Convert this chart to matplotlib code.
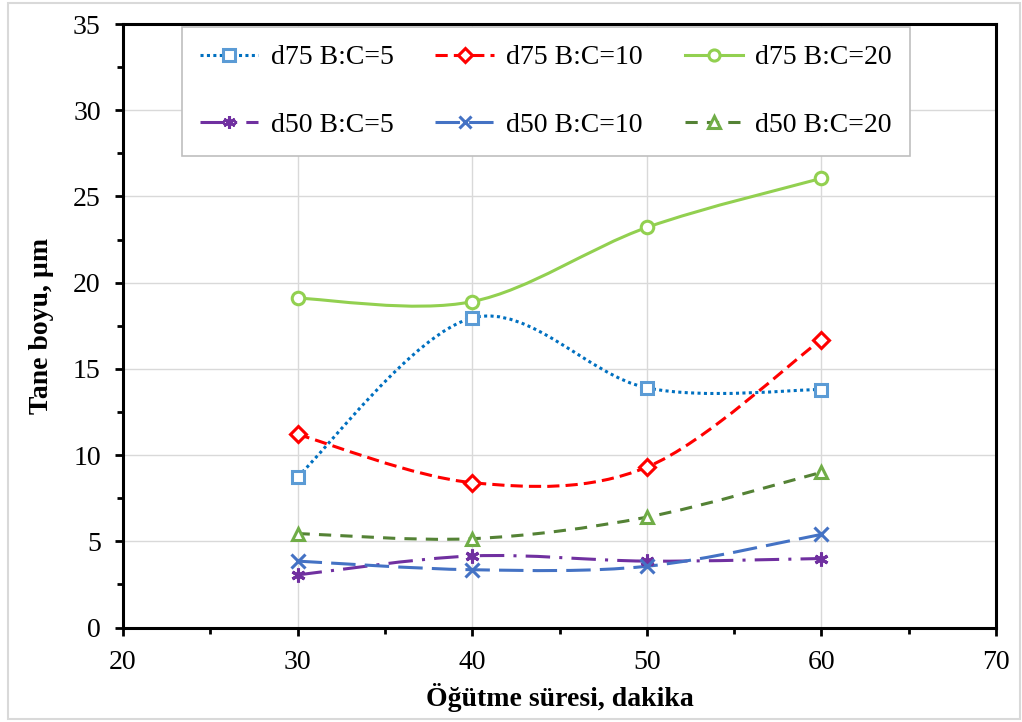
import numpy as np
import matplotlib
matplotlib.use("Agg")
import matplotlib.pyplot as plt
from matplotlib.path import Path
from matplotlib.patches import PathPatch, Rectangle
from matplotlib.lines import Line2D
from matplotlib.ticker import MultipleLocator

plt.rcParams['font.family'] = ['Liberation Serif', 'DejaVu Serif']

# data
sure = [30, 40, 50, 60]
d75_bc5 = [8.75, 17.95, 13.9, 13.8]
d75_bc10 = [11.2, 8.4, 9.3, 16.7]
d75_bc20 = [19.1, 18.9, 23.2, 26.05]
d50_bc5 = [3.05, 4.15, 3.85, 4.0]
d50_bc10 = [3.85, 3.35, 3.55, 5.4]
d50_bc20 = [5.45, 5.15, 6.4, 9.0]

series = [
    ("d75 B:C=5", d75_bc5,
     dict(color="#0070C0", linestyle=(0, (1, 1.1))),
     dict(marker="s", mec="#5B9BD5", ms=9)),
    ("d75 B:C=10", d75_bc10,
     dict(color="#FF0000", linestyle=(0, (4, 2))),
     dict(marker="D", mec="#FF0000", ms=8)),
    ("d75 B:C=20", d75_bc20,
     dict(color="#92D050", linestyle="-"),
     dict(marker="o", mec="#92D050", ms=9)),
    ("d50 B:C=5", d50_bc5,
     dict(color="#7030A0", linestyle=(0, (8, 3, 1, 3))),
     dict(marker=(6, 2, 0), mec="#7030A0", ms=10)),
    ("d50 B:C=10", d50_bc10,
     dict(color="#4472C4", linestyle=(0, (8, 3))),
     dict(marker="x", mec="#4472C4", ms=10)),
    ("d50 B:C=20", d50_bc20,
     dict(color="#548235", linestyle=(0, (4, 3))),
     dict(marker="^", mec="#70AD47", ms=9)),
]

LW = 2.2


def smooth_path(x, y):
    # Catmull-Rom style bezier, similar to Excel's smoothed line
    pts = np.column_stack([x, y]).astype(float)
    n = len(pts)
    verts = [pts[0]]
    codes = [Path.MOVETO]
    for i in range(n - 1):
        p0 = pts[i - 1] if i > 0 else pts[i]
        p1 = pts[i]
        p2 = pts[i + 1]
        p3 = pts[i + 2] if i + 2 < n else pts[i + 1]
        c1 = p1 + (p2 - p0) / 6.0
        c2 = p2 - (p3 - p1) / 6.0
        verts += [c1, c2, p2]
        codes += [Path.CURVE4] * 3
    return Path(verts, codes)


fig = plt.figure(figsize=(10.22, 7.22), dpi=100)
ax = fig.add_axes([123 / 1022, 1 - 627.5 / 722, (996 - 123) / 1022, (627.5 - 24) / 722])

handles = {}
for label, vals, ls, mk in series:
    patch = PathPatch(smooth_path(sure, vals), fill=False, lw=LW,
                      edgecolor=ls["color"], linestyle=ls["linestyle"],
                      transform=ax.transData, zorder=3)
    ax.add_patch(patch)
    ax.plot(sure, vals, linestyle="none", marker=mk["marker"], ms=mk["ms"],
            mfc="white" if mk["marker"] not in ("x", (6, 2, 0)) else mk["mec"],
            mec=mk["mec"], mew=2.2, zorder=4)
    handles[label] = Line2D([], [], color=ls["color"], linestyle=ls["linestyle"], lw=LW,
                            marker=mk["marker"], ms=mk["ms"] - 1,
                            mfc="white" if mk["marker"] not in ("x", (6, 2, 0)) else mk["mec"],
                            mec=mk["mec"], mew=2.2)

ax.set_xlim(20, 70)
ax.set_ylim(0, 35)
ax.xaxis.set_major_locator(MultipleLocator(10))
ax.xaxis.set_minor_locator(MultipleLocator(5))
ax.yaxis.set_major_locator(MultipleLocator(5))
ax.yaxis.set_minor_locator(MultipleLocator(2.5))
ax.grid(True, which="major", color="#d9d9d9", lw=1, zorder=0)
ax.set_axisbelow(True)
for sp in ax.spines.values():
    sp.set_linewidth(2.2)
    sp.set_color("black")
ax.tick_params(which="major", direction="out", length=6, width=2, labelsize=20, pad=10)
ax.tick_params(which="minor", direction="out", length=4.5, width=2)

ax.set_xlabel("Öğütme süresi, dakika", fontsize=20, fontweight="bold", labelpad=6)
ax.set_ylabel("Tane boyu, µm", fontsize=20, fontweight="bold", labelpad=14)

order = ["d75 B:C=5", "d50 B:C=5", "d75 B:C=10", "d50 B:C=10", "d75 B:C=20", "d50 B:C=20"]
leg = ax.legend([handles[k] for k in order], order, ncol=3, fontsize=20,
                loc="upper left", bbox_to_anchor=(182 / 1022, 1 - 27 / 722),
                bbox_transform=fig.transFigure, borderaxespad=0,
                handlelength=2.1, handletextpad=0.45, columnspacing=1.5,
                labelspacing=1.5, borderpad=0.65, fancybox=False, framealpha=1)
leg.get_frame().set_edgecolor("#bfbfbf")
leg.get_frame().set_linewidth(1.2)

fig.patches.append(Rectangle((8 / 1022, 3 / 722), 1012 / 1022, 716 / 722,
                             transform=fig.transFigure, fill=False,
                             edgecolor="#d9d9d9", lw=1.5))

fig.savefig("out.png", dpi=100)
